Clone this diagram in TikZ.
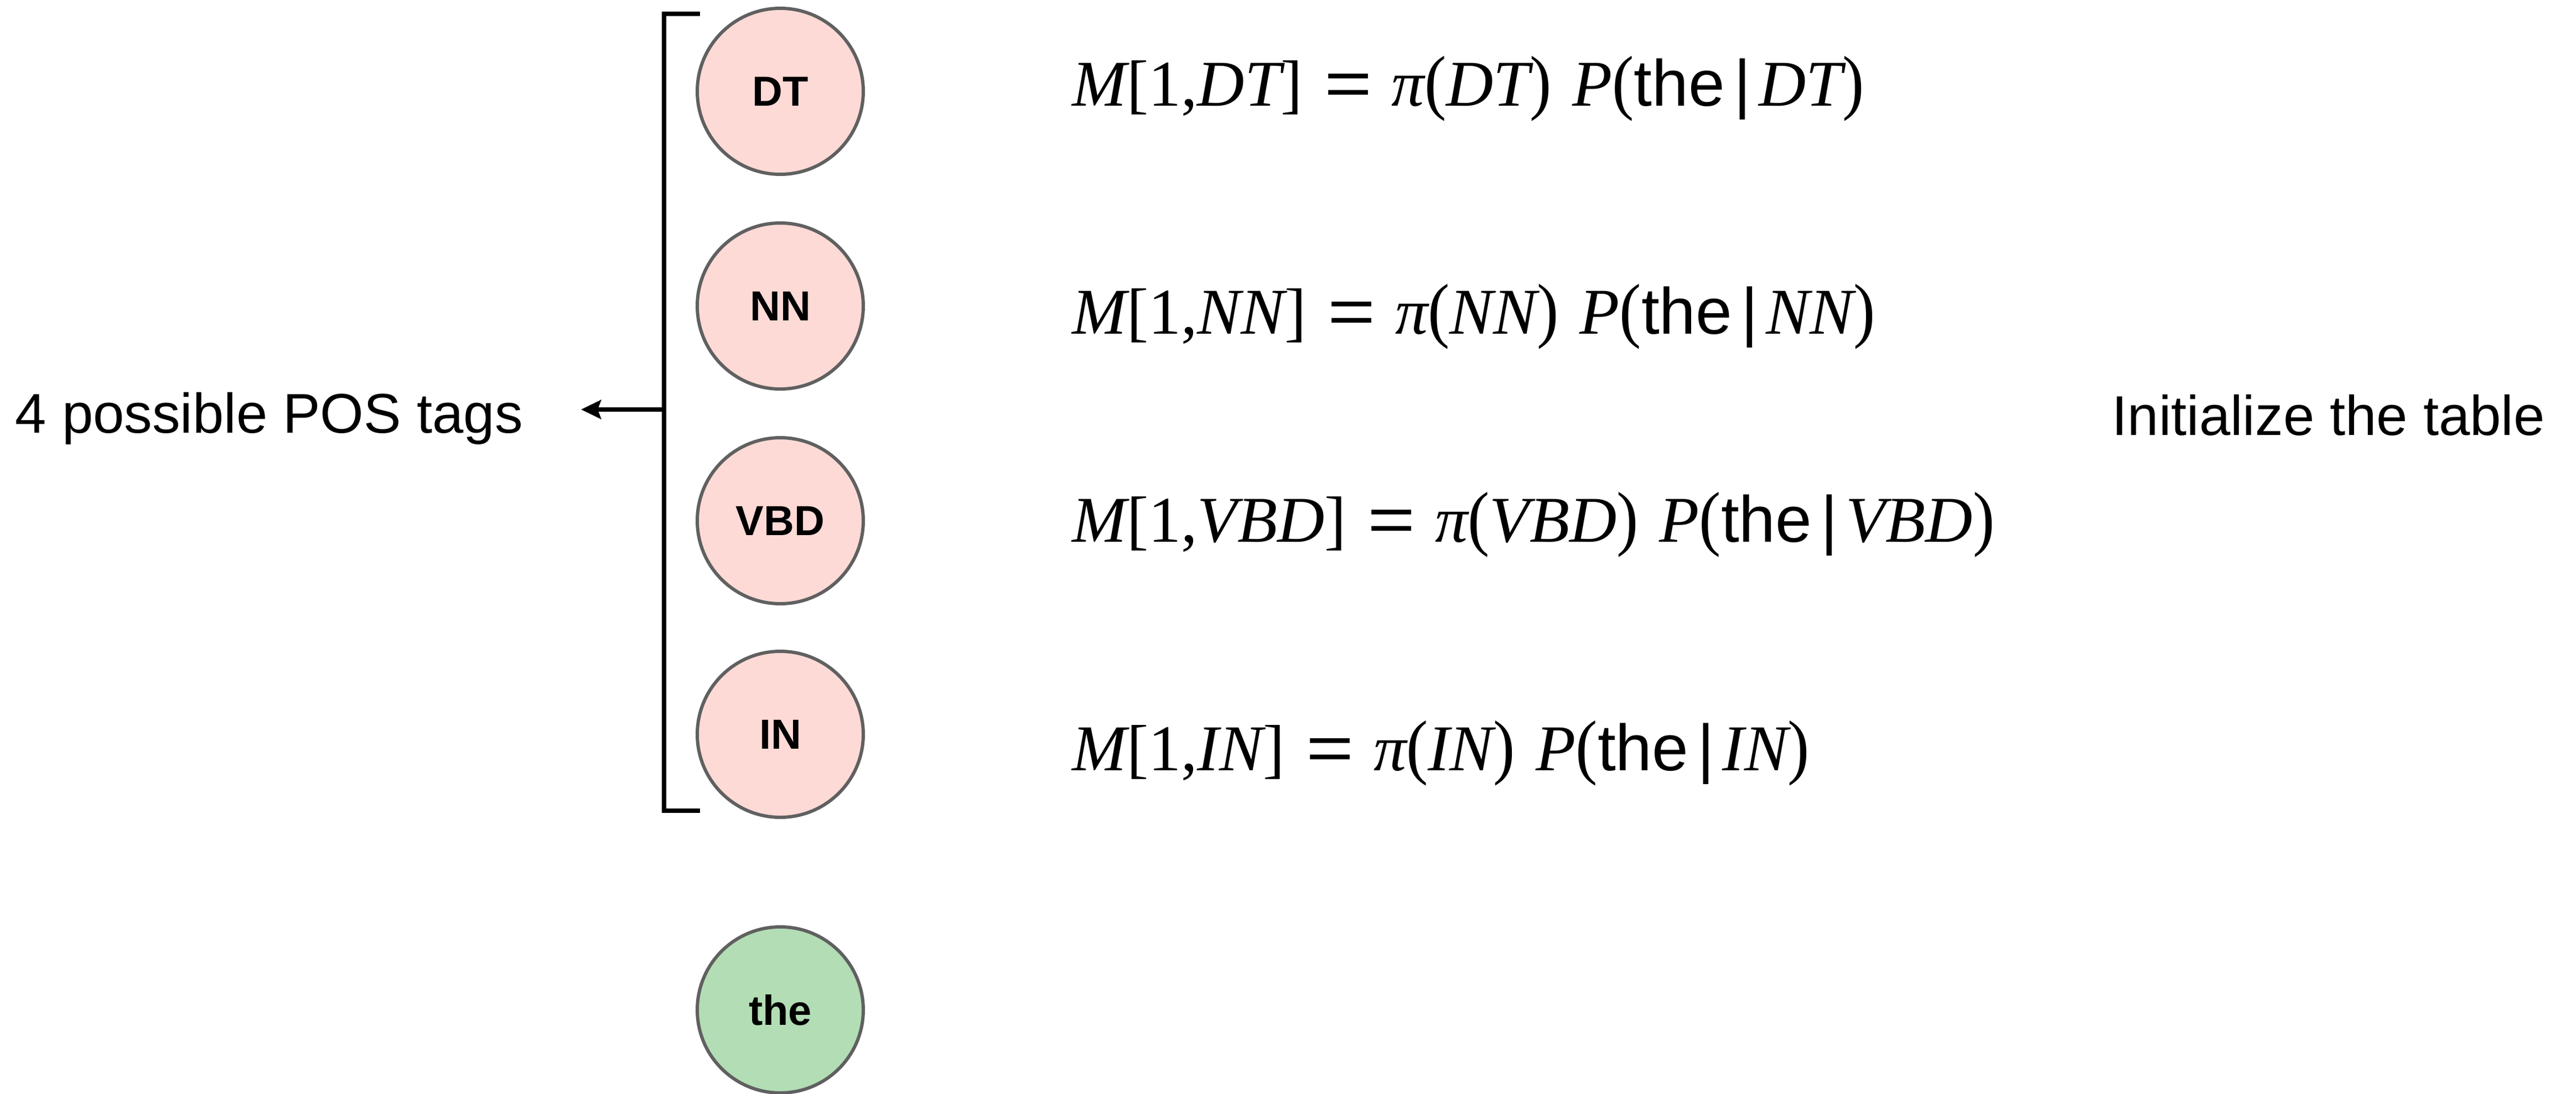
\documentclass[tikz,border=0pt]{standalone}
\usepackage{fontspec}
\setmainfont{Liberation Sans}
\newfontfamily\tms{Liberation Serif}
\usetikzlibrary{arrows.meta}
\definecolor{pinkfill}{RGB}{253,218,214}
\definecolor{greenfill}{RGB}{179,221,181}
\definecolor{edgegray}{RGB}{96,96,96}
\newcommand{\mvar}[1]{{\tms\itshape #1}}
\newcommand{\mrm}[1]{{\tms #1}}
\newcommand{\lpar}{\scalebox{1}[1.1]{\tms (}}
\newcommand{\rpar}{\scalebox{1}[1.1]{\tms )}}
\newcommand{\initformula}[1]{\mvar{M}\mrm{[1,}\mvar{#1}\mrm{]}\hspace{0.33em}\scalebox{1.25}[1]{=}\hspace{0.3em}\mvar{π}\lpar\mvar{#1}\rpar\hspace{0.32em}\mvar{P}\lpar the\hspace{0.14em}|\hspace{0.12em}\mvar{#1}\rpar}
\begin{document}
\begin{tikzpicture}[
  tagnode/.style={circle, draw=edgegray, line width=1.7pt, fill=pinkfill, minimum size=3.0cm, inner sep=0pt, font=\fontsize{21.6pt}{26pt}\selectfont\bfseries},
  wordnode/.style={tagnode, fill=greenfill},
  formulanode/.style={anchor=base west, inner sep=0pt, font=\fontsize{33.6pt}{40pt}\selectfont},
  labelnode/.style={inner sep=0pt, font=\fontsize{28.8pt}{34pt}\selectfont},
  bracketline/.style={line width=2.3pt, line cap=rect},
  arrowline/.style={line width=2.3pt, -{Stealth[length=0.36cm, width=0.34cm, inset=0.06cm]}}
]
\useasboundingbox (0,0) rectangle (46.55,-19.77);

\node[tagnode] (dt) at (14.10,-1.65) {DT};
\node[tagnode] (nn) at (14.10,-5.53) {NN};
\node[tagnode] (vbd) at (14.10,-9.41) {VBD};
\node[tagnode] (in) at (14.10,-13.27) {IN};
\node[wordnode] (the) at (14.10,-18.25) {the};

\coordinate (btop) at (12.61,-0.25);
\coordinate (bbot) at (12.61,-14.65);
\coordinate (bmid) at (12.00,-7.40);
\coordinate (tip) at (10.50,-7.40);
\draw[bracketline] (btop) -- (12.00,-0.25) -- (12.00,-14.65) -- (bbot);
\draw[arrowline] (bmid) -- (tip);

\node[labelnode, anchor=base west] (tags) at (0.27,-7.82) {4 possible POS tags};
\node[labelnode, anchor=base west] (init) at (38.16,-7.86) {Initialize the table};

\node[formulanode] (fdt) at (19.37,-1.91) {\initformula{DT}};
\node[formulanode] (fnn) at (19.37,-6.03) {\initformula{NN}};
\node[formulanode] (fvbd) at (19.37,-9.79) {\initformula{VBD}};
\node[formulanode] (fin) at (19.37,-13.92) {\initformula{IN}};
\end{tikzpicture}
\end{document}
